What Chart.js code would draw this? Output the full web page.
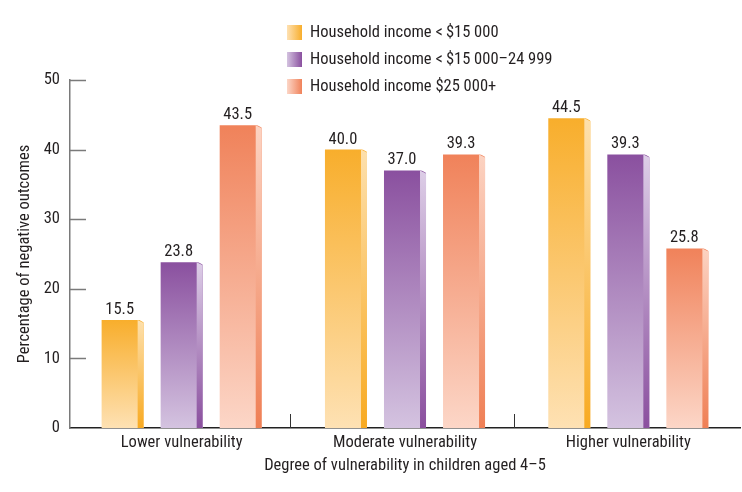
<!DOCTYPE html>
<html><head><meta charset="utf-8">
<script src="https://cdn.jsdelivr.net/npm/chart.js@4.4.1/dist/chart.umd.min.js"></script>
<style>html,body{margin:0;padding:0;background:#fff}</style>
</head><body>
<canvas id="c" width="742" height="492"></canvas>
<script>
// ---- data ----
const categories = ['Lower vulnerability', 'Moderate vulnerability', 'Higher vulnerability'];
const seriesLabels = ['Household income <\u2009$15 000', 'Household income <\u2009$15 000\u201324 999', 'Household income $25 000+'];
const incomeUnder15k = [15.5, 40.0, 44.5];
const income15kTo25k = [23.8, 37.0, 39.3];
const income25kPlus = [43.5, 39.3, 25.8];
const yTicks = [0, 10, 20, 30, 40, 50];
const yTitle = 'Percentage of negative outcomes';
const xTitle = 'Degree of vulnerability in children aged 4\u20135';

// ---- style ----
const FONT = "'Roboto Condensed', 'Liberation Sans Narrow', sans-serif";
const FS = 16.5;
const TXT = '#231f20';
const frontTop = ['#f8ae2c', '#8a509f', '#f0825a'];
const frontBottom = ['#fee1b3', '#d4c3e0', '#fcd6c7'];
const sideTop = ['#fde0ad', '#ddcee7', '#fcd3c2'];
const sideBottom = ['#f8aa22', '#8a4f9e', '#ef7f55'];
const SIDE_W = 6;

function frontGradient(di) {
  return (c) => {
    const chart = c.chart;
    if (!chart.chartArea || c.type !== 'data') return frontTop[di];
    const ys = chart.scales.y;
    const top = ys.getPixelForValue(c.raw);
    const base = ys.getPixelForValue(0);
    const g = chart.ctx.createLinearGradient(0, top, 0, base);
    g.addColorStop(0, frontTop[di]);
    g.addColorStop(1, frontBottom[di]);
    return g;
  };
}

const side3d = {
  id: 'side3d',
  afterDatasetsDraw(chart) {
    const ctx = chart.ctx;
    chart.data.datasets.forEach((ds, di) => {
      chart.getDatasetMeta(di).data.forEach((bar, i) => {
        const p = bar.getProps(['x', 'y', 'base', 'width'], true);
        const xr = p.x + p.width / 2;
        const xl = xr - SIDE_W;
        ctx.save();
        // clear corner above slanted top
        ctx.fillStyle = '#fff';
        ctx.beginPath();
        ctx.moveTo(xl, p.y - 1);
        ctx.lineTo(xr + 1, p.y - 1);
        ctx.lineTo(xr + 1, p.y + 3);
        ctx.closePath();
        ctx.fill();
        const g = ctx.createLinearGradient(0, p.y, 0, p.base);
        g.addColorStop(0, sideTop[di]);
        g.addColorStop(1, sideBottom[di]);
        ctx.fillStyle = g;
        ctx.beginPath();
        ctx.moveTo(xl, p.y);
        ctx.lineTo(xr, p.y + 3);
        ctx.lineTo(xr, p.base);
        ctx.lineTo(xl, p.base);
        ctx.closePath();
        ctx.fill();
        // value label centred on the front face
        ctx.fillStyle = TXT;
        ctx.font = FS + 'px ' + FONT;
        ctx.textAlign = 'center';
        ctx.textBaseline = 'alphabetic';
        ctx.fillText(Number(ds.data[i]).toFixed(1), (p.x - p.width / 2 + xl) / 2, p.y - 6);
        ctx.restore();
      });
    });
  }
};

const axisMarks = {
  id: 'axisMarks',
  afterDraw(chart) {
    const ctx = chart.ctx;
    const ys = chart.scales.y, xs = chart.scales.x;
    const area = chart.chartArea;
    ctx.save();
    ctx.strokeStyle = '#7a7a7a';
    ctx.lineWidth = 1.5;
    yTicks.forEach(v => {
      if (v === 0) return;
      const y = Math.round(ys.getPixelForValue(v)) + 0.5;
      ctx.beginPath();
      ctx.moveTo(area.left, y);
      ctx.lineTo(area.left + 16, y);
      ctx.stroke();
    });
    ctx.strokeStyle = '#333';
    ctx.lineWidth = 1;
    for (let i = 0; i < categories.length - 1; i++) {
      const x = Math.round((xs.getPixelForValue(i) + xs.getPixelForValue(i + 1)) / 2) - 2.5;
      ctx.beginPath();
      ctx.moveTo(x, area.bottom);
      ctx.lineTo(x, area.bottom - 14);
      ctx.stroke();
    }
    // legend
    ctx.font = FS + 'px ' + FONT;
    ctx.textAlign = 'left';
    ctx.textBaseline = 'middle';
    const rows = [33, 60, 87];
    chart.data.datasets.forEach((ds, di) => {
      const cy = rows[di];
      const g = ctx.createLinearGradient(287, 0, 302, 0);
      g.addColorStop(0, frontBottom[di]);
      g.addColorStop(1, frontTop[di]);
      ctx.fillStyle = g;
      ctx.fillRect(287, cy - 8, 15, 15);
      ctx.fillStyle = TXT;
      ctx.fillText(ds.label, 310, cy);
    });
    ctx.restore();
  }
};

new Chart(document.getElementById('c'), {
  type: 'bar',
  data: {
    labels: categories,
    datasets: [
      { label: seriesLabels[0], data: incomeUnder15k, backgroundColor: frontGradient(0) },
      { label: seriesLabels[1], data: income15kTo25k, backgroundColor: frontGradient(1) },
      { label: seriesLabels[2], data: income25kPlus, backgroundColor: frontGradient(2) }
    ]
  },
  options: {
    responsive: false,
    animation: false,
    devicePixelRatio: 1,
    layout: { padding: { top: 80, right: 2, left: 0, bottom: 0 } },
    datasets: { bar: { categoryPercentage: 0.793, barPercentage: 0.712, borderWidth: 0 } },
    plugins: { legend: { display: false }, tooltip: { enabled: false } },
    scales: {
      x: {
        grid: { display: false, drawTicks: false },
        border: { display: true, color: '#222', width: 1.5 },
        ticks: { color: TXT, font: { family: FONT, size: FS }, padding: 5, maxRotation: 0 },
        title: { display: true, text: xTitle, color: TXT, font: { family: FONT, size: FS }, padding: { top: 0, bottom: 16 } },
        afterFit: s => { s.height = 64; }
      },
      y: {
        min: 0, max: 50,
        afterBuildTicks: s => { s.ticks = yTicks.map(v => ({ value: v })); },
        grid: { display: false, drawTicks: false },
        border: { display: true, color: '#7a7a7a', width: 1.5 },
        ticks: { color: TXT, font: { family: FONT, size: FS }, padding: 10 },
        title: { display: true, text: yTitle, color: TXT, font: { family: FONT, size: FS }, padding: { top: 15, bottom: 0 } },
        afterFit: s => { s.width = 70; }
      }
    }
  },
  plugins: [side3d, axisMarks]
});
</script>
</body></html>
